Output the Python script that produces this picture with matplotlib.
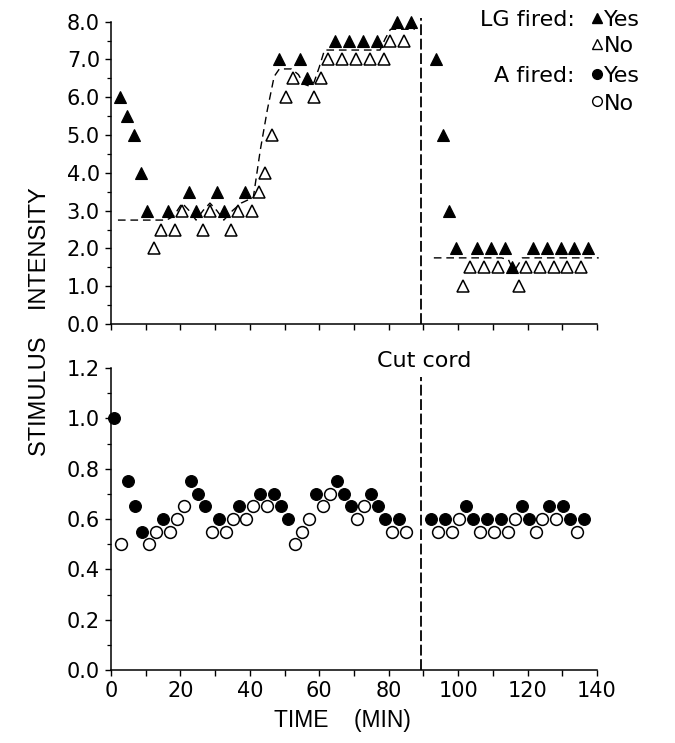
import matplotlib
matplotlib.use('Agg')
import matplotlib.pyplot as plt
from matplotlib.ticker import MultipleLocator, FormatStrFormatter
from matplotlib.lines import Line2D
import numpy as np

# ---------------- data ----------------
# Top panel: LG stimulus intensity; fired 1 = yes (filled), 0 = no (open)
lg_time_pre = [2.5, 4.5, 6.5, 8.5, 10.5, 12.5, 14.5, 16.5, 18.5, 20.5, 22.5, 24.5, 26.5, 28.5,
               30.5, 32.5, 34.5, 36.5, 38.5, 40.5, 42.5, 44.5, 46.5, 48.5, 50.5, 52.5, 54.5,
               56.5, 58.5, 60.5, 62.5, 64.5, 66.5, 68.5, 70.5, 72.5, 74.5, 76.5, 78.5, 80.5,
               82.5, 84.5, 86.5]
lg_int_pre = [6.0, 5.5, 5.0, 4.0, 3.0, 2.0, 2.5, 3.0, 2.5, 3.0, 3.5, 3.0, 2.5, 3.0,
              3.5, 3.0, 2.5, 3.0, 3.5, 3.0, 3.5, 4.0, 5.0, 7.0, 6.0, 6.5, 7.0,
              6.5, 6.0, 6.5, 7.0, 7.5, 7.0, 7.5, 7.0, 7.5, 7.0, 7.5, 7.0, 7.5,
              8.0, 7.5, 8.0]
lg_fired_pre = [1, 1, 1, 1, 1, 0, 0, 1, 0, 0, 1, 1, 0, 0,
                1, 1, 0, 0, 1, 0, 0, 0, 0, 1, 0, 0, 1,
                1, 0, 0, 0, 1, 0, 1, 0, 1, 0, 1, 0, 0,
                1, 0, 1]
lg_time_post = [93.5, 95.5, 97.5, 99.5, 101.5, 103.5, 105.5, 107.5, 109.5, 111.5, 113.5, 115.5,
                117.5, 119.5, 121.5, 123.5, 125.5, 127.5, 129.5, 131.5, 133.5, 135.5, 137.5]
lg_int_post = [7.0, 5.0, 3.0, 2.0, 1.0, 1.5, 2.0, 1.5, 2.0, 1.5, 2.0, 1.5,
               1.0, 1.5, 2.0, 1.5, 2.0, 1.5, 2.0, 1.5, 2.0, 1.5, 2.0]
lg_fired_post = [1, 1, 1, 1, 0, 0, 1, 0, 1, 0, 1, 1,
                 0, 0, 1, 0, 1, 0, 1, 0, 1, 0, 1]

# Threshold estimates (dashed curves) in the top panel
thr_time_pre = [2, 16, 18, 20.5, 22.5, 24.5, 26.5, 28.5, 30.5, 32.5, 35, 37.5, 41, 43, 45, 47,
                48.5, 52, 54, 55.5, 57, 58.5, 60, 61.5, 77.5, 79, 80.5, 87.5]
thr_val_pre = [2.75, 2.75, 2.85, 3.2, 3.0, 2.75, 3.0, 3.2, 3.0, 2.75, 3.0, 3.2, 3.35, 4.6, 5.65,
               6.55, 6.75, 6.75, 6.6, 6.35, 6.3, 6.4, 6.8, 7.25, 7.25, 7.55, 7.8, 7.8]
thr_time_post = [93, 112.5, 114.5, 115.5, 116.5, 117.5, 118.5, 140.5]
thr_val_post = [1.75, 1.75, 1.7, 1.5, 1.45, 1.6, 1.75, 1.75]

# Bottom panel: A stimulus intensity
a_time_pre = [1, 3, 5, 7, 9, 11, 13, 15, 17, 19, 21, 23, 25, 27, 29, 31, 33, 35, 37, 39, 41,
              43, 45, 47, 49, 51, 53, 55, 57, 59, 61, 63, 65, 67, 69, 71, 73, 75, 77, 79, 81,
              83, 85]
a_int_pre = [1.00, 0.50, 0.75, 0.65, 0.55, 0.50, 0.55, 0.60, 0.55, 0.60, 0.65, 0.75, 0.70,
             0.65, 0.55, 0.60, 0.55, 0.60, 0.65, 0.60, 0.65, 0.70, 0.65, 0.70, 0.65, 0.60,
             0.50, 0.55, 0.60, 0.70, 0.65, 0.70, 0.75, 0.70, 0.65, 0.60, 0.65, 0.70, 0.65,
             0.60, 0.55, 0.60, 0.55]
a_fired_pre = [1, 0, 1, 1, 1, 0, 0, 1, 0, 0, 0, 1, 1,
               1, 0, 1, 0, 0, 1, 0, 0, 1, 0, 1, 1, 1,
               0, 0, 0, 1, 0, 0, 1, 1, 1, 0, 0, 1, 1,
               1, 0, 1, 0]
a_time_post = [92.3, 94.3, 96.3, 98.3, 100.3, 102.3, 104.3, 106.3, 108.3, 110.3, 112.3, 114.3,
               116.3, 118.3, 120.3, 122.3, 124.3, 126.3, 128.3, 130.3, 132.3, 134.3, 136.3]
a_int_post = [0.60, 0.55, 0.60, 0.55, 0.60, 0.65, 0.60, 0.55, 0.60, 0.55, 0.60, 0.55,
              0.60, 0.65, 0.60, 0.55, 0.60, 0.65, 0.60, 0.65, 0.60, 0.55, 0.60]
a_fired_post = [1, 0, 1, 0, 0, 1, 1, 0, 1, 0, 1, 0,
                0, 1, 1, 0, 0, 1, 0, 1, 1, 0, 1]

cut_time = 89.3

# ---------------- style ----------------
plt.rcParams['font.family'] = ['DejaVu Sans']
NARROW = ['Liberation Sans', 'DejaVu Sans']

W, H = 675, 743
fig = plt.figure(figsize=(W / 100, H / 100), dpi=100)

def fx(px):
    return px / W

def fy(py):
    return 1 - py / H

left, right = fx(111), fx(597)
ax1 = fig.add_axes([left, fy(324), right - left, fy(21.7) - fy(324)])
ax2 = fig.add_axes([left, fy(670), right - left, fy(368) - fy(670)])

for ax in (ax1, ax2):
    ax.set_xlim(0, 140)
    for s in ('top', 'right'):
        ax.spines[s].set_visible(False)
    for s in ('left', 'bottom'):
        ax.spines[s].set_linewidth(1.1)
    ax.xaxis.set_major_locator(MultipleLocator(20))
    ax.xaxis.set_minor_locator(MultipleLocator(10))
    ax.tick_params(which='major', direction='out', length=4, width=1.0, labelsize=15, pad=4)
    ax.tick_params(which='minor', direction='out', length=3, width=0.9)
    ax.tick_params(axis='x', which='minor', length=4, width=1.0)

ax1.set_ylim(0, 8)
ax1.yaxis.set_major_locator(MultipleLocator(1))
ax1.yaxis.set_minor_locator(MultipleLocator(0.5))
ax1.yaxis.set_major_formatter(FormatStrFormatter('%.1f'))
ax1.tick_params(axis='x', labelbottom=False)

ax2.set_ylim(0, 1.2)
ax2.yaxis.set_major_locator(MultipleLocator(0.2))
ax2.yaxis.set_minor_locator(MultipleLocator(0.1))
ax2.yaxis.set_major_formatter(FormatStrFormatter('%.1f'))


def draw(ax, t, v, fired, marker, ms):
    t = np.asarray(t, float)
    v = np.asarray(v, float)
    f = np.asarray(fired, bool)
    ax.plot(t[~f], v[~f], linestyle='none', marker=marker, ms=ms, mfc='white',
            mec='black', mew=1.1, clip_on=False, zorder=3)
    ax.plot(t[f], v[f], linestyle='none', marker=marker, ms=ms, mfc='black',
            mec='black', mew=0.8, clip_on=False, zorder=4)


# threshold dashed curves
for tt, vv in ((thr_time_pre, thr_val_pre), (thr_time_post, thr_val_post)):
    ax1.plot(tt, vv, color='black', lw=1.0, linestyle=(0, (5.5, 3.5)), clip_on=False, zorder=2)

draw(ax1, lg_time_pre, lg_int_pre, lg_fired_pre, '^', 9)
draw(ax1, lg_time_post, lg_int_post, lg_fired_post, '^', 9)
draw(ax2, a_time_pre, a_int_pre, a_fired_pre, 'o', 8.5)
draw(ax2, a_time_post, a_int_post, a_fired_post, 'o', 8.5)

# cord-cut lines
ax1.plot([cut_time, cut_time], [0, 8.1], color='black', lw=1.3,
         linestyle=(0, (6, 2)), clip_on=False, zorder=1)
ax2.plot([cut_time, cut_time], [0, 1.165], color='black', lw=1.3,
         linestyle=(0, (6, 2)), clip_on=False, zorder=1)
ax2.text(90.3, 1.205, 'Cut cord', ha='center', va='baseline', fontsize=16, clip_on=False)

# legend drawn by hand
fig.text(fx(575), fy(26), 'LG fired:', ha='right', va='baseline', fontsize=16)
fig.text(fx(575), fy(82), 'A fired:', ha='right', va='baseline', fontsize=16)
legend_rows = [(18, '^', 'black', 'Yes', 26), (44, '^', 'white', 'No', 52),
               (74, 'o', 'black', 'Yes', 82), (101, 'o', 'white', 'No', 110)]
for py, mk, fc, lab, base in legend_rows:
    fig.add_artist(Line2D([fx(597)], [fy(py)], transform=fig.transFigure, marker=mk,
                          ms=7, mfc=fc, mec='black', mew=1.0, linestyle='none'))
    fig.text(fx(604), fy(base), lab, ha='left', va='baseline', fontsize=16)

# axis titles
fig.text(fx(40), fy(322), 'STIMULUS    INTENSITY', rotation=90, ha='center', va='center',
         fontsize=17, family=NARROW)
fig.text(fx(342), fy(721), 'TIME    (MIN)', ha='center', va='center',
         fontsize=16.5, family=NARROW)

fig.savefig('out.png', dpi=100)
